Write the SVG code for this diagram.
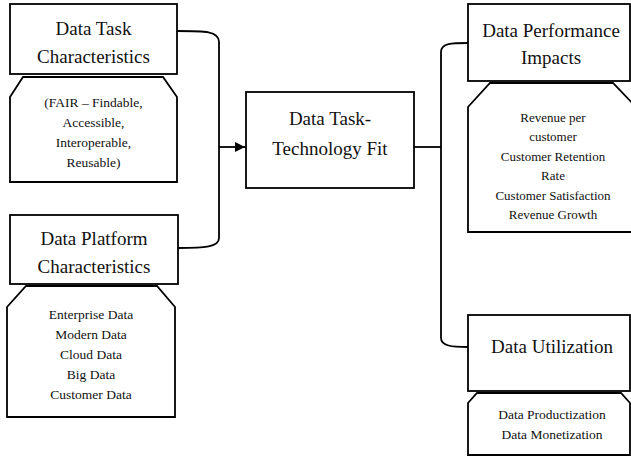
<svg xmlns="http://www.w3.org/2000/svg" width="631" height="461" viewBox="0 0 631 461">
<style>
.box{fill:#fff;stroke:#000;stroke-width:1.8}
.con{fill:none;stroke:#000;stroke-width:1.8}
.t{font-family:"Liberation Serif","DejaVu Serif",serif;font-size:19px;fill:#111;text-anchor:middle}
.s{font-family:"Liberation Serif","DejaVu Serif",serif;font-size:13.5px;fill:#111;text-anchor:middle}
.s2{font-family:"Liberation Serif","DejaVu Serif",serif;font-size:13px;fill:#111;text-anchor:middle}
</style>
<defs>
<marker id="arr" viewBox="0 0 10 10" refX="10" refY="5" markerWidth="10" markerHeight="11" markerUnits="userSpaceOnUse" orient="auto">
<path d="M0,0 L10,5 L0,10 Z" fill="#000"/>
</marker>
</defs>
<rect width="631" height="461" fill="#fff"/>
<g id="connectors">
<path class="con" d="M177,31 C205,31 219,31 219,42 V238 C219,247 205,248 178,248"/>
<path class="con" d="M219,147 H245" marker-end="url(#arr)"/>
<path class="con" d="M414,147 H441"/>
<path class="con" d="M468,43 C452,43 441,43 441,52 V338 C441,346 452,347 468,347"/>
</g>
<g id="task">
<rect class="box" x="10" y="4" width="167" height="70"/>
<text class="t" x="93.5" y="35">Data Task</text>
<text class="t" x="93.5" y="63">Characteristics</text>
</g>
<g id="task-details">
<path class="box" d="M23,77 H163 L177,97 V182 H10 V97 Z"/>
<text class="s" x="93.5" y="107">(FAIR – Findable,</text>
<text class="s" x="93.5" y="127">Accessible,</text>
<text class="s" x="93.5" y="147">Interoperable,</text>
<text class="s" x="93.5" y="167">Reusable)</text>
</g>
<g id="platform">
<rect class="box" x="10" y="215" width="168" height="69"/>
<text class="t" x="94" y="245">Data Platform</text>
<text class="t" x="94" y="273">Characteristics</text>
</g>
<g id="platform-details">
<path class="box" d="M26,286 H157 L175,307 V417 H7 V307 Z"/>
<text class="s" x="91" y="319">Enterprise Data</text>
<text class="s" x="91" y="339">Modern Data</text>
<text class="s" x="91" y="359">Cloud Data</text>
<text class="s" x="91" y="379">Big Data</text>
<text class="s" x="91" y="399">Customer Data</text>
</g>
<g id="fit">
<rect class="box" x="246" y="92" width="168" height="96"/>
<text class="t" x="330" y="125">Data Task-</text>
<text class="t" x="330" y="155">Technology Fit</text>
</g>
<g id="performance">
<rect class="box" x="468" y="4" width="162" height="77"/>
<text class="t" x="551" y="37">Data Performance</text>
<text class="t" x="551" y="64">Impacts</text>
</g>
<g id="performance-details">
<path class="box" d="M490,83 H613 L636,107 V232 H468 V107 Z"/>
<text class="s2" x="553" y="122">Revenue per</text>
<text class="s2" x="553" y="141">customer</text>
<text class="s2" x="553" y="161">Customer Retention</text>
<text class="s2" x="553" y="180">Rate</text>
<text class="s2" x="553" y="200">Customer Satisfaction</text>
<text class="s2" x="553" y="219">Revenue Growth</text>
</g>
<g id="utilization">
<rect class="box" x="468" y="315" width="162" height="76"/>
<text class="t" x="552" y="353">Data Utilization</text>
</g>
<g id="utilization-details">
<path class="box" d="M477,393 H621 L630,403 V455 H468 V403 Z"/>
<text class="s" x="552" y="419">Data Productization</text>
<text class="s" x="552" y="439">Data Monetization</text>
</g>
</svg>
